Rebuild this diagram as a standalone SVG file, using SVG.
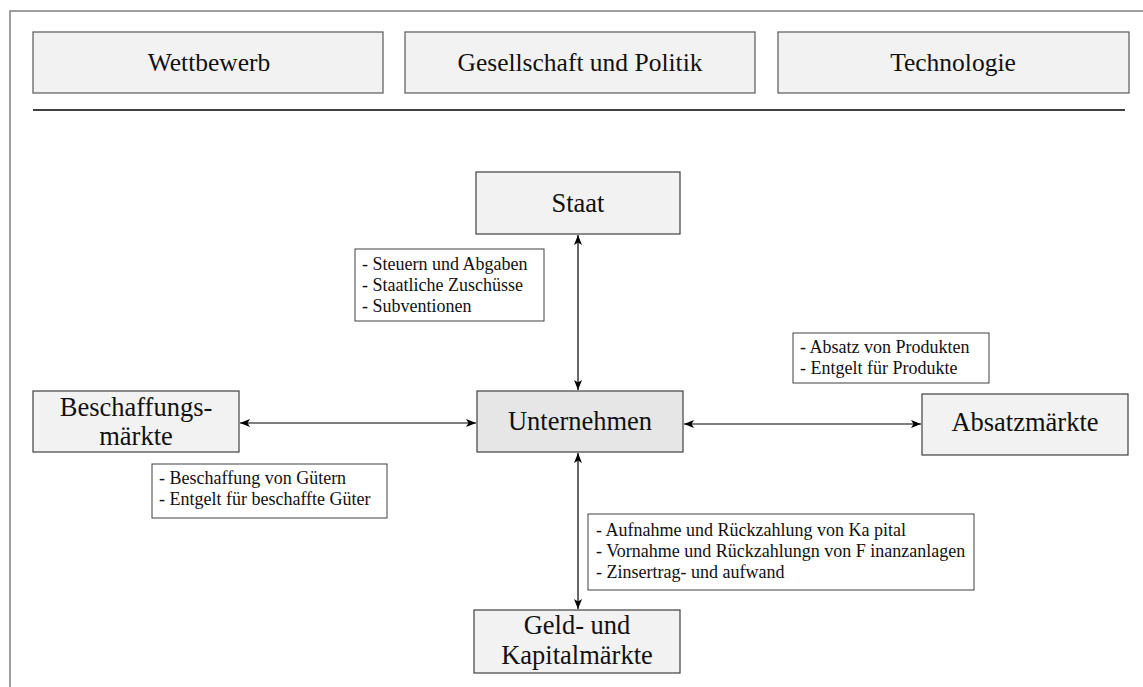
<svg xmlns="http://www.w3.org/2000/svg" width="1143" height="687" viewBox="0 0 1143 687">
  <style>
    .frame { fill: none; stroke: #7f7f7f; stroke-width: 1.5; }
    .topbox { fill: #f2f2f2; stroke: #595959; stroke-width: 1.2; }
    .node { fill: #f2f2f2; stroke: #404040; stroke-width: 1.2; }
    .core { fill: #e6e6e6; stroke: #404040; stroke-width: 1.2; }
    .label { fill: #ffffff; stroke: #404040; stroke-width: 1; }
    .title { font-family: "Liberation Serif", "Times New Roman", serif; font-size: 25.5px; fill: #111; text-anchor: middle; }
    .name { font-family: "Liberation Serif", "Times New Roman", serif; font-size: 26.5px; fill: #111; text-anchor: middle; }
    .item { font-family: "Liberation Serif", "Times New Roman", serif; font-size: 18px; fill: #111; }
    .link { stroke: #000; stroke-width: 1.2; fill: none; marker-start: url(#head); marker-end: url(#head); }
  </style>
  <defs>
    <marker id="head" viewBox="0 0 10 8" refX="10" refY="4" markerWidth="10" markerHeight="8" markerUnits="userSpaceOnUse" orient="auto-start-reverse">
      <path d="M0,0 L10,4 L0,8 L2.5,4 z" fill="#000"/>
    </marker>
  </defs>

  <rect width="1143" height="687" fill="#ffffff"/>
  <rect class="frame" x="10" y="11" width="1140" height="690"/>

  <!-- environment spheres -->
  <g id="wettbewerb">
    <rect class="topbox" x="33" y="32" width="350" height="61"/>
    <text class="title" x="209" y="71">Wettbewerb</text>
  </g>
  <g id="gesellschaft">
    <rect class="topbox" x="405" y="32" width="350" height="61"/>
    <text class="title" x="580" y="71">Gesellschaft und Politik</text>
  </g>
  <g id="technologie">
    <rect class="topbox" x="778" y="32" width="351" height="61"/>
    <text class="title" x="953" y="71">Technologie</text>
  </g>
  <line x1="33" y1="110" x2="1125" y2="110" stroke="#000" stroke-width="1.5"/>

  <!-- connectors -->
  <g id="connectors">
    <line class="link" x1="578" y1="235" x2="578" y2="390"/>
    <line class="link" x1="240" y1="423" x2="476" y2="423"/>
    <line class="link" x1="684" y1="424" x2="921" y2="424"/>
    <line class="link" x1="578" y1="453" x2="578" y2="609"/>
  </g>

  <!-- market partners -->
  <g id="staat">
    <rect class="node" x="476" y="172" width="204" height="62"/>
    <text class="name" x="578" y="212">Staat</text>
  </g>
  <g id="unternehmen">
    <rect class="core" x="477" y="391" width="206" height="61"/>
    <text class="name" x="580" y="430">Unternehmen</text>
  </g>
  <g id="beschaffungsmaerkte">
    <rect class="node" x="33" y="391" width="206" height="61"/>
    <text class="name" x="136" y="416">Beschaffungs-</text>
    <text class="name" x="136" y="445">märkte</text>
  </g>
  <g id="absatzmaerkte">
    <rect class="node" x="922" y="394" width="206" height="61"/>
    <text class="name" x="1025" y="431">Absatzmärkte</text>
  </g>
  <g id="kapitalmaerkte">
    <rect class="node" x="474" y="610" width="206" height="63"/>
    <text class="name" x="577" y="634">Geld- und</text>
    <text class="name" x="577" y="664">Kapitalmärkte</text>
  </g>

  <!-- flow descriptions -->
  <g id="flows-staat">
    <rect class="label" x="355" y="249" width="189" height="72"/>
    <text class="item" x="362" y="270">- Steuern und Abgaben</text>
    <text class="item" x="362" y="291">- Staatliche Zuschüsse</text>
    <text class="item" x="362" y="312">- Subventionen</text>
  </g>
  <g id="flows-absatz">
    <rect class="label" x="793" y="333" width="196" height="50"/>
    <text class="item" x="800" y="353">- Absatz von Produkten</text>
    <text class="item" x="800" y="374">- Entgelt für Produkte</text>
  </g>
  <g id="flows-beschaffung">
    <rect class="label" x="152" y="464" width="235" height="54"/>
    <text class="item" x="159" y="484">- Beschaffung von Gütern</text>
    <text class="item" x="159" y="505">- Entgelt für beschaffte Güter</text>
  </g>
  <g id="flows-kapital">
    <rect class="label" x="588" y="514" width="386" height="76"/>
    <text class="item" x="596" y="536">- Aufnahme und Rückzahlung von Ka pital</text>
    <text class="item" x="596" y="557">- Vornahme und Rückzahlungn von F inanzanlagen</text>
    <text class="item" x="596" y="578">- Zinsertrag- und aufwand</text>
  </g>
</svg>
